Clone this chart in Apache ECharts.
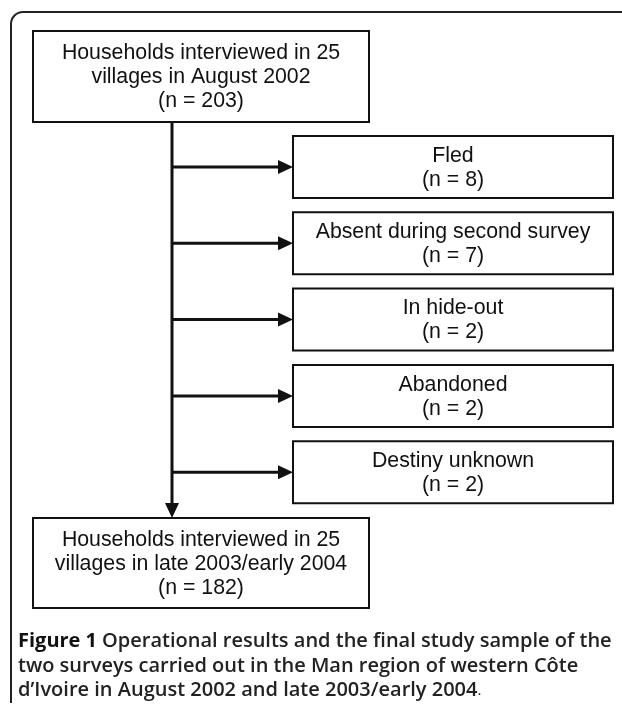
<!DOCTYPE html>
<html>
<head>
<meta charset="utf-8">
<script src="https://cdn.jsdelivr.net/npm/echarts@6/dist/echarts.min.js"></script>
<style>
html, body {margin: 0; padding: 0; background: #fff;}
#chart {width: 622px; height: 705px;}
</style>
</head>
<body>
<div id="chart"></div>
<script>
// flow chart content
var source_lines = ['Households interviewed in 25', 'villages in August 2002'];
var source_n = 203;
var exit_reasons = ['Fled', 'Absent during second survey', 'In hide-out', 'Abandoned', 'Destiny unknown'];
var exit_counts = [8, 7, 2, 2, 2];
var final_lines = ['Households interviewed in 25', 'villages in late 2003/early 2004'];
var final_n = 182;
var caption_lines = [
    'Operational results and the final study sample of the',
    'two surveys carried out in the Man region of western C\u00f4te',
    'd\u2019Ivoire in August 2002 and late 2003/early 2004'
];

// layout (pixel space of the hidden axes)
var layout = {
    source: [33, 31, 369, 122],
    final: [33, 518, 369, 608],
    exit_x: [293, 613],
    exit_top: 136,
    exit_h: 62,
    exit_step: 76.3,
    trunk_x: 172,
    head: 15
};

function box_rect(i) {
    if (i === 0) return layout.source;
    if (i === exit_reasons.length + 1) return layout.final;
    var top = layout.exit_top + (i - 1) * layout.exit_step;
    return [layout.exit_x[0], top, layout.exit_x[1], top + layout.exit_h];
}
function box_text(i) {
    if (i === 0) return source_lines.concat(['(n = ' + source_n + ')']).join('\n');
    if (i === exit_reasons.length + 1) return final_lines.concat(['(n = ' + final_n + ')']).join('\n');
    return exit_reasons[i - 1] + '\n(n = ' + exit_counts[i - 1] + ')';
}

var box_data = [];
for (var i = 0; i < exit_reasons.length + 2; i++) box_data.push([i]);
var link_data = exit_reasons.map(function (r, i) { return [i]; });

function render_box(params, api) {
    var r = box_rect(params.dataIndex);
    var p0 = api.coord([r[0], r[1]]);
    var p1 = api.coord([r[2], r[3]]);
    return {
        type: 'group',
        children: [
            {type: 'rect', shape: {x: p0[0], y: p0[1], width: p1[0] - p0[0], height: p1[1] - p0[1]},
             style: {fill: '#fff', stroke: '#111', lineWidth: 2}},
            {type: 'text', style: {
                text: box_text(params.dataIndex), x: (p0[0] + p1[0]) / 2, y: (p0[1] + p1[1]) / 2 + 1,
                align: 'center', verticalAlign: 'middle', fontFamily: 'Liberation Sans, Arial, sans-serif',
                fontSize: 21.3, lineHeight: 24, fill: '#111'}}
        ]
    };
}

function render_link(params, api) {
    var r = box_rect(params.dataIndex + 1);
    var cy = (r[1] + r[3]) / 2;
    var a = api.coord([layout.trunk_x, cy]);
    var tip = api.coord([r[0], cy]);
    var h = layout.head;
    var children = [
        {type: 'line', shape: {x1: a[0], y1: a[1], x2: tip[0] - h, y2: tip[1]}, style: {stroke: '#111', lineWidth: 3}},
        {type: 'polygon', shape: {points: [[tip[0] - h, tip[1] - 7], [tip[0] - h, tip[1] + 7], [tip[0], tip[1]]]},
         style: {fill: '#111'}}
    ];
    if (params.dataIndex === 0) {
        // trunk from source box to final box
        var t0 = api.coord([layout.trunk_x, layout.source[3]]);
        var t1 = api.coord([layout.trunk_x, layout.final[1]]);
        children.push({type: 'line', shape: {x1: t0[0], y1: t0[1], x2: t1[0], y2: t1[1] - h}, style: {stroke: '#111', lineWidth: 3}});
        children.push({type: 'polygon', shape: {points: [[t1[0] - 7, t1[1] - h], [t1[0] + 7, t1[1] - h], [t1[0], t1[1]]]},
                       style: {fill: '#111'}});
    }
    return {type: 'group', children: children};
}

var frame_style = {fill: 'none', stroke: '#222', lineWidth: 2};
var chart = echarts.init(document.getElementById('chart'), null, {renderer: 'canvas'});
chart.setOption({
    animation: false,
    backgroundColor: '#fff',
    title: {
        left: 18, top: 629, padding: 0,
        text: '{b|Figure 1} {s|' + caption_lines[0] + '}\n{s|' + caption_lines[1] + '}\n{s|' + caption_lines[2] + '}{d|.}',
        textStyle: {
            rich: {
                b: {fontFamily: 'Open Sans', fontWeight: 700, fontSize: 20, lineHeight: 24.7, color: '#111'},
                s: {fontFamily: 'Open Sans', fontWeight: 600, fontSize: 20, lineHeight: 24.7, color: '#222'},
                d: {fontFamily: 'Open Sans', fontWeight: 400, fontSize: 15, lineHeight: 24.7, color: '#222'}
            }
        }
    },
    grid: {left: 0, right: 0, top: 0, bottom: 0},
    xAxis: {type: 'value', min: 0, max: 622, show: false},
    yAxis: {type: 'value', min: 0, max: 705, inverse: true, show: false},
    graphic: [
        {type: 'line', shape: {x1: 11, y1: 24, x2: 11, y2: 703}, style: frame_style},
        {type: 'line', shape: {x1: 23, y1: 12, x2: 622, y2: 12}, style: frame_style},
        {type: 'arc', shape: {cx: 23, cy: 24, r: 12, startAngle: Math.PI, endAngle: Math.PI * 1.5, clockwise: true}, style: frame_style}
    ],
    series: [
        {type: 'custom', name: 'links', renderItem: render_link, data: link_data, silent: true, z: 1},
        {type: 'custom', name: 'boxes', renderItem: render_box, data: box_data, silent: true, z: 2}
    ]
});
</script>
</body>
</html>
